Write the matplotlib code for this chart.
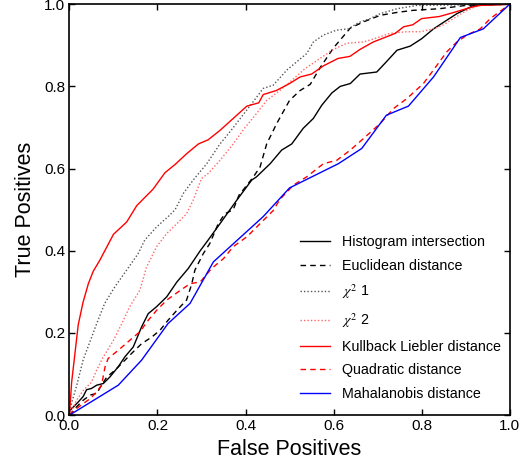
import matplotlib
matplotlib.use("Agg")
import matplotlib.pyplot as plt

plt.rcParams["font.family"] = ["Liberation Sans", "DejaVu Sans"]
plt.rcParams["mathtext.fontset"] = "stix"

# ROC curves (false positive rate, true positive rate)
fp_hist = [0, 0.009, 0.02, 0.031, 0.039, 0.05, 0.062, 0.077, 0.092, 0.111, 0.126, 0.145,
           0.164, 0.179, 0.198, 0.221, 0.244, 0.27, 0.297, 0.315, 0.342, 0.38, 0.414, 0.425,
           0.456, 0.482, 0.505, 0.531, 0.554, 0.573, 0.596, 0.615, 0.638, 0.66, 0.698, 0.72,
           0.744, 0.774, 0.80, 0.827, 0.857, 0.88, 0.903, 0.918, 1.0]
tp_hist = [0.01, 0.02, 0.032, 0.045, 0.062, 0.065, 0.073, 0.077, 0.093, 0.118, 0.142, 0.166,
           0.215, 0.247, 0.264, 0.288, 0.324, 0.357, 0.40, 0.426, 0.466, 0.523, 0.572, 0.58,
           0.612, 0.645, 0.66, 0.698, 0.722, 0.754, 0.784, 0.80, 0.807, 0.83, 0.835, 0.86,
           0.888, 0.898, 0.916, 0.94, 0.961, 0.977, 0.989, 0.997, 1.0]

fp_eucl = [0, 0.016, 0.031, 0.047, 0.062, 0.073, 0.085, 0.103, 0.119, 0.141, 0.164, 0.187,
           0.206, 0.224, 0.244, 0.266, 0.278, 0.285, 0.304, 0.319, 0.338, 0.353, 0.372, 0.385,
           0.418, 0.433, 0.448, 0.471, 0.50, 0.524, 0.547, 0.569, 0.60, 0.638, 0.668, 0.706,
           0.744, 0.78, 0.84, 0.90, 1.0]
tp_eucl = [0, 0.02, 0.036, 0.049, 0.053, 0.073, 0.093, 0.109, 0.126, 0.15, 0.174, 0.19,
           0.207, 0.231, 0.255, 0.28, 0.32, 0.353, 0.393, 0.418, 0.466, 0.49, 0.50, 0.535,
           0.58, 0.604, 0.66, 0.71, 0.766, 0.79, 0.805, 0.845, 0.894, 0.942, 0.957, 0.973,
           0.98, 0.985, 0.989, 0.997, 1.0]

fp_chi1 = [0, 0.005, 0.016, 0.031, 0.047, 0.062, 0.08, 0.103, 0.13, 0.156, 0.171, 0.198,
           0.224, 0.24, 0.259, 0.281, 0.312, 0.342, 0.365, 0.391, 0.414, 0.44, 0.463, 0.494,
           0.512, 0.539, 0.554, 0.577, 0.607, 0.634, 0.656, 0.683, 0.706, 0.744, 0.789, 1.0]
tp_chi1 = [0, 0.03, 0.07, 0.134, 0.18, 0.223, 0.272, 0.312, 0.353, 0.393, 0.426, 0.458,
           0.483, 0.50, 0.54, 0.572, 0.612, 0.66, 0.69, 0.726, 0.758, 0.795, 0.803, 0.84,
           0.856, 0.88, 0.908, 0.925, 0.937, 0.94, 0.955, 0.965, 0.977, 0.989, 0.997, 1.0]

fp_chi2 = [0, 0.016, 0.031, 0.05, 0.062, 0.077, 0.10, 0.119, 0.137, 0.16, 0.175, 0.198,
           0.221, 0.244, 0.266, 0.281, 0.30, 0.315, 0.342, 0.372, 0.399, 0.425, 0.448, 0.478,
           0.50, 0.535, 0.569, 0.60, 0.63, 0.668, 0.698, 0.728, 0.766, 0.797, 0.827, 0.85,
           0.872, 0.903, 0.93, 1.0]
tp_chi2 = [0, 0.036, 0.06, 0.08, 0.11, 0.142, 0.182, 0.223, 0.264, 0.304, 0.36, 0.41,
           0.442, 0.466, 0.49, 0.523, 0.576, 0.588, 0.62, 0.66, 0.70, 0.734, 0.766, 0.79,
           0.81, 0.843, 0.868, 0.89, 0.905, 0.908, 0.918, 0.929, 0.933, 0.933, 0.94, 0.95,
           0.965, 0.985, 0.997, 1.0]

fp_kl = [0, 0.005, 0.02, 0.031, 0.043, 0.054, 0.069, 0.10, 0.13, 0.153, 0.19, 0.217, 0.24,
         0.266, 0.293, 0.315, 0.342, 0.372, 0.403, 0.43, 0.44, 0.47, 0.50, 0.524, 0.55, 0.577,
         0.61, 0.637, 0.66, 0.69, 0.74, 0.759, 0.78, 0.80, 0.84, 0.87, 0.914, 0.933, 1.0]
tp_kl = [0, 0.08, 0.22, 0.275, 0.32, 0.35, 0.377, 0.44, 0.47, 0.51, 0.55, 0.59, 0.61,
         0.636, 0.66, 0.67, 0.693, 0.722, 0.752, 0.76, 0.78, 0.79, 0.807, 0.823, 0.83, 0.85,
         0.868, 0.873, 0.89, 0.908, 0.929, 0.945, 0.95, 0.965, 0.97, 0.979, 0.993, 0.997, 1.0]

fp_quad = [0, 0.016, 0.031, 0.047, 0.062, 0.073, 0.081, 0.088, 0.111, 0.137, 0.16, 0.179,
           0.198, 0.221, 0.247, 0.274, 0.297, 0.323, 0.35, 0.372, 0.403, 0.433, 0.463, 0.478,
           0.509, 0.539, 0.577, 0.607, 0.638, 0.672, 0.706, 0.736, 0.766, 0.804, 0.827, 0.857,
           0.88, 0.903, 0.933, 0.956, 1.0]
tp_quad = [0, 0.016, 0.028, 0.04, 0.057, 0.073, 0.118, 0.138, 0.158, 0.182, 0.203, 0.231,
           0.255, 0.28, 0.30, 0.32, 0.324, 0.357, 0.381, 0.41, 0.434, 0.466, 0.498, 0.525,
           0.56, 0.58, 0.612, 0.62, 0.645, 0.677, 0.71, 0.746, 0.77, 0.807, 0.84, 0.884,
           0.908, 0.925, 0.94, 0.965, 1.0]

fp_maha = [0, 0.111, 0.164, 0.224, 0.274, 0.327, 0.365, 0.44, 0.50, 0.611, 0.664, 0.72,
           0.77, 0.827, 0.888, 0.94, 1.0]
tp_maha = [0, 0.073, 0.134, 0.223, 0.272, 0.373, 0.41, 0.483, 0.553, 0.612, 0.649, 0.73,
           0.752, 0.823, 0.919, 0.94, 1.0]

labels = ["Histogram intersection", "Euclidean distance", r"$\chi^2$ 1", r"$\chi^2$ 2",
          "Kullback Liebler distance", "Quadratic distance", "Mahalanobis distance"]

fig = plt.figure(figsize=(5.26, 4.67), dpi=100)
ax = fig.add_axes([0.132, 0.111, 0.837, 0.880])

lw = 1.0
ax.plot(fp_hist, tp_hist, color="black", lw=lw, label=labels[0])
ax.plot(fp_eucl, tp_eucl, color="black", lw=lw, ls=(0, (4, 3)), label=labels[1])
ax.plot(fp_chi1, tp_chi1, color="#555555", lw=lw, ls=(0, (1, 1.5)), label=labels[2])
ax.plot(fp_chi2, tp_chi2, color="#ff6666", lw=lw, ls=(0, (1, 1.5)), label=labels[3])
ax.plot(fp_kl, tp_kl, color="#ff0000", lw=lw, label=labels[4])
ax.plot(fp_quad, tp_quad, color="#ff0000", lw=lw, ls=(0, (4, 3)), label=labels[5])
ax.plot(fp_maha, tp_maha, color="#0000ff", lw=lw, label=labels[6])

ax.set_xlim(0, 1)
ax.set_ylim(0, 1)
ticks = [0.0, 0.2, 0.4, 0.6, 0.8, 1.0]
ax.set_xticks(ticks)
ax.set_yticks(ticks)
ax.set_xticklabels([f"{t:.1f}" for t in ticks])
ax.set_yticklabels([f"{t:.1f}" for t in ticks])
ax.tick_params(direction="in", top=True, right=True, length=4, width=1, labelsize=11, pad=3)
for s in ax.spines.values():
    s.set_linewidth(1.2)

ax.set_xlabel("False Positives", fontsize=15.5, labelpad=4)
ax.set_ylabel("True Positives", fontsize=15.5, labelpad=6)

ax.legend(loc="lower left", bbox_to_anchor=(0.50, 0.01), frameon=False, fontsize=10.3,
          handlelength=2.1, handletextpad=0.9, labelspacing=0.68, borderaxespad=0.3)

fig.savefig("out.png", dpi=100)
